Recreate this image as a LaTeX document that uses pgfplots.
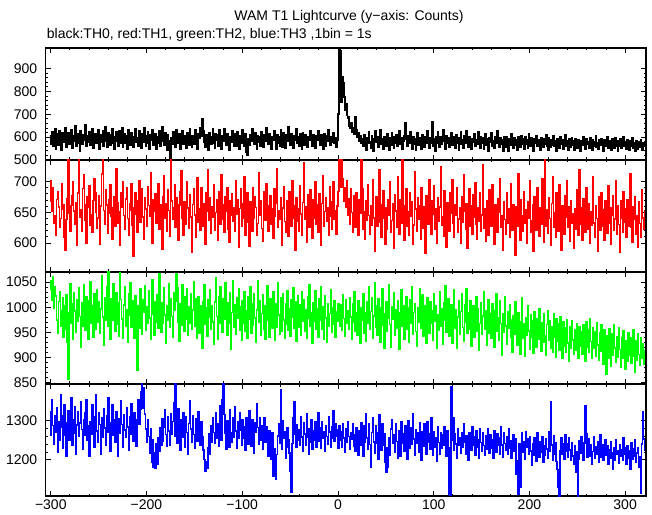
\documentclass[border=0pt]{standalone}
\usepackage{fontspec}
\setmainfont{Liberation Sans}
\usepackage{pgfplots}
\pgfplotsset{compat=1.18}
\usepackage{pgfplotstable}
\pgfplotstableread{
t a b c d
-301 605 702 1035 1262
-300 571 668 1052 1323
-299 624 651 1014 1354
-298 559 690 1060 1287
-297 590 633 998 1240
-296 637 645 1041 1312
-295 548 612 1022 1269
-294 612 671 975 1333
-293 583 684 948 1220
-292 565 659 1011 1298
-291 629 626 1031 1251
-290 597 640 962 1366
-289 544 697 994 1284
-288 618 655 1018 1229
-287 578 663 941 1311
-286 602 609 1003 1340
-285 641 588 957 1263
-284 556 638 1025 1208
-283 587 672 930 1295
-282 620 735 857 1324
-281 569 648 989 1251
-280 594 619 1047 1280
-279 633 661 968 1357
-278 551 677 1006 1236
-277 607 700 937 1302
-276 585 652 1029 1268
-275 648 630 993 1334
-274 562 666 951 1215
-273 598 597 1014 1289
-272 616 681 972 1323
-271 575 735 1039 1260
-270 540 642 982 1294
-269 627 654 921 1347
-268 593 620 1008 1277
-267 570 689 963 1226
-266 611 711 1044 1303
-265 588 663 997 1262
-264 652 637 955 1319
-263 559 600 1020 1352
-262 604 675 979 1249
-261 579 658 936 1287
-260 623 693 1012 1210
-259 567 629 1051 1296
-258 595 646 969 1265
-257 638 618 1003 1341
-256 553 669 940 1284
-255 590 705 1027 1232
-254 616 682 985 1310
-253 574 650 956 1366
-252 600 624 1035 1273
-251 632 641 971 1244
-250 546 677 1010 1319
-249 585 598 948 1290
-248 611 660 996 1215
-247 577 712 1062 1307
-246 626 735 981 1258
-245 561 653 924 1329
-244 597 631 1019 1281
-243 644 687 975 1236
-242 582 662 1040 1312
-241 558 616 962 1270
-240 620 649 1070 1358
-239 593 670 988 1294
-238 567 694 937 1221
-237 609 644 1016 1286
-236 635 607 974 1340
-235 576 658 1047 1262
-234 550 676 999 1301
-233 603 628 952 1246
-232 622 720 1029 1322
-231 585 666 966 1279
-230 561 633 1008 1209
-229 628 651 943 1305
-228 596 597 1068 1267
-227 573 682 1015 1351
-226 642 659 977 1290
-225 557 700 938 1233
-224 588 645 1004 1314
-223 614 623 1041 1276
-222 575 672 963 1257
-221 605 690 995 1332
-220 549 640 930 1284
-219 630 612 1027 1225
-218 592 664 984 1309
-217 566 653 1049 1266
-216 619 696 960 1344
-215 584 629 1012 1292
-214 555 578 971 1248
-213 603 657 938 1320
-212 637 681 1022 1278
-211 579 647 985 1235
-210 598 617 874 1303
-209 563 668 1003 1354
-208 625 701 959 1290
-207 587 634 1036 1329
-206 552 659 977 1373
-205 612 688 946 1395
-204 578 642 1014 1332
-203 641 606 990 1384
-202 590 673 1043 1317
-201 560 655 955 1279
-200 604 627 1000 1244
-199 623 692 968 1301
-198 573 661 1032 1259
-197 547 644 979 1216
-196 609 715 936 1280
-195 586 637 1018 1195
-194 631 600 1055 1252
-193 567 670 987 1181
-192 595 651 944 1219
-191 614 680 1010 1178
-190 548 632 971 1240
-189 602 654 1025 1189
-188 576 697 958 1256
-187 629 623 1066 1223
-186 559 662 996 1281
-185 590 645 951 1237
-184 645 590 1008 1304
-183 581 676 968 1248
-182 565 709 1039 1283
-181 617 641 985 1328
-180 592 664 929 1265
-179 545 620 1003 1235
-178 608 686 975 1310
-177 583 653 1047 1274
-176 520 611 960 1238
-175 507 735 1016 1317
-174 598 668 982 1266
-173 571 639 941 1297
-172 624 658 1029 1346
-171 586 695 994 1260
-170 556 626 1012 1395
-169 631 674 1067 1289
-168 598 648 1039 1242
-167 575 605 970 1331
-166 612 662 933 1275
-165 548 683 1006 1224
-164 590 717 965 1302
-163 627 640 1044 1257
-162 569 613 985 1320
-161 605 667 952 1281
-160 582 651 1020 1232
-159 553 630 976 1309
-158 619 699 1037 1269
-157 594 657 944 1215
-156 566 624 1001 1293
-155 638 679 968 1351
-154 580 642 1026 1278
-153 557 585 957 1246
-152 606 663 995 1313
-151 591 688 1050 1264
-150 569 646 963 1230
-149 630 609 1017 1305
-148 584 671 939 1283
-147 550 706 989 1247
-146 613 634 1021 1322
-145 595 655 948 1271
-144 640 621 1002 1237
-143 603 690 974 1296
-142 678 648 919 1258
-141 626 627 1011 1225
-140 577 664 1045 1201
-139 558 598 966 1170
-138 611 681 998 1196
-137 587 652 942 1178
-136 544 719 1015 1230
-135 620 637 980 1267
-134 589 673 1034 1213
-133 568 616 957 1286
-132 601 659 1003 1245
-131 637 642 971 1308
-130 574 694 926 1269
-129 553 621 1010 1241
-128 615 650 1059 1320
-127 586 671 982 1256
-126 609 605 937 1292
-125 562 684 1020 1234
-124 631 647 968 1337
-123 588 630 1041 1280
-122 547 711 993 1251
-121 604 663 950 1354
-120 583 638 1016 1395
-119 637 617 977 1316
-118 596 676 1048 1267
-117 565 652 994 1226
-116 613 690 945 1299
-115 581 622 1008 1286
-114 543 602 969 1233
-113 602 668 1028 1328
-112 578 645 916 1270
-111 629 680 990 1244
-110 594 635 1053 1307
-109 559 658 961 1258
-108 616 619 1004 1335
-107 587 701 947 1274
-106 561 647 1019 1229
-105 622 671 978 1298
-104 589 593 1037 1254
-103 548 656 955 1321
-102 607 689 1000 1275
-101 573 628 934 1236
-100 632 664 1013 1303
-99 596 641 969 1256
-98 562 708 1031 1283
-97 614 612 952 1225
-96 533 650 994 1308
-95 521 682 938 1264
-94 590 634 1021 1239
-93 566 595 976 1324
-92 610 667 1040 1278
-91 585 653 948 1235
-90 637 620 1007 1302
-89 593 690 965 1254
-88 570 641 1026 1216
-87 618 676 979 1295
-86 584 658 931 1270
-85 549 613 995 1343
-84 607 632 1053 1282
-83 578 715 971 1240
-82 600 646 1012 1306
-81 563 669 944 1251
-80 624 624 988 1288
-79 591 603 1024 1226
-78 555 683 957 1263
-77 611 650 1003 1307
-76 582 637 936 1245
-75 640 697 975 1284
-74 596 661 1042 1258
-73 568 619 983 1210
-72 612 644 941 1275
-71 579 677 1017 1237
-70 550 630 1002 1202
-69 603 655 958 1269
-68 587 608 1030 1157
-67 626 688 969 1175
-66 589 643 934 1228
-65 546 664 1007 1150
-64 608 721 961 1214
-63 574 626 1048 1261
-62 599 652 985 1293
-61 563 639 946 1241
-60 630 673 1019 1378
-59 592 597 953 1226
-58 557 657 1026 1299
-57 619 692 975 1255
-56 584 635 938 1272
-55 552 618 1006 1204
-54 609 668 967 1233
-53 581 645 1033 1282
-52 643 611 955 1250
-51 596 684 997 1218
-50 567 650 942 1172
-49 612 627 1015 1118
-48 583 702 980 1241
-47 551 641 1039 1306
-46 604 661 959 1349
-45 588 589 1010 1264
-44 634 674 932 1231
-43 575 636 987 1290
-42 601 655 1022 1249
-41 561 620 961 1276
-40 615 693 1004 1236
-39 587 647 944 1310
-38 548 612 1030 1258
-37 620 666 972 1221
-36 592 731 1014 1295
-35 566 638 953 1266
-34 609 659 995 1238
-33 585 601 938 1318
-32 556 678 1021 1257
-31 603 644 979 1215
-30 588 625 1045 1279
-29 629 687 963 1244
-28 597 653 990 1302
-27 562 608 929 1227
-26 611 671 1008 1274
-25 580 640 972 1250
-24 551 699 1033 1297
-23 604 631 956 1231
-22 589 662 996 1270
-21 626 617 941 1319
-20 593 680 1016 1248
-19 567 646 974 1281
-18 610 596 1040 1229
-17 582 664 957 1297
-16 549 709 1001 1254
-15 615 628 936 1272
-14 590 651 1023 1221
-13 563 674 979 1288
-12 607 635 930 1259
-11 585 657 1006 1240
-10 633 612 962 1310
-9 597 691 988 1271
-8 565 643 1035 1231
-7 602 622 950 1283
-6 580 667 998 1255
-5 620 700 967 1324
-4 574 638 1013 1247
-3 598 653 940 1291
-2 557 614 991 1261
-1 588 660 972 1276
0 701 684 1007 1230
1 990 745 990 1287
2 975 742 963 1249
3 752 690 1004 1272
4 862 738 955 1233
5 838 704 1024 1291
6 776 668 978 1255
7 720 690 943 1220
8 745 659 1015 1279
9 698 702 969 1244
10 683 646 994 1296
11 690 672 957 1260
12 648 631 1019 1226
13 641 688 981 1270
14 662 650 937 1252
15 621 617 1006 1293
16 640 677 970 1235
17 612 641 1030 1265
18 690 625 952 1223
19 632 682 990 1282
20 601 639 945 1248
21 618 613 1012 1212
22 585 671 964 1275
23 607 648 928 1238
24 573 740 998 1294
25 594 689 975 1253
26 562 622 1027 1209
27 609 651 948 1286
28 583 606 990 1244
29 545 668 932 1317
30 598 637 1011 1255
31 574 694 969 1226
32 621 645 1040 1293
33 581 615 957 1239
34 553 660 992 1182
35 606 629 1018 1270
36 570 703 938 1308
37 538 641 983 1245
38 590 587 1049 1217
39 625 655 961 1287
40 577 676 1002 1242
41 599 628 945 1270
42 556 649 1017 1201
43 584 719 973 1316
44 630 634 931 1254
45 571 610 998 1225
46 593 662 1036 1291
47 546 685 964 1236
48 601 640 919 1266
49 580 598 987 1194
50 559 657 1010 1168
51 616 623 953 1230
52 588 671 979 1182
53 542 646 1045 1256
54 595 700 966 1211
55 567 618 921 1278
56 620 637 1001 1302
57 585 664 976 1243
58 551 591 1028 1264
59 603 679 944 1219
60 576 652 995 1293
61 611 626 958 1247
62 560 708 1013 1205
63 589 643 970 1274
64 629 615 917 1258
65 571 670 990 1210
66 596 633 1034 1297
67 547 735 962 1241
68 582 648 1002 1266
69 607 605 937 1223
70 662 660 985 1287
71 590 689 1021 1250
72 563 627 956 1202
73 605 651 998 1299
74 575 612 931 1255
75 624 681 1015 1230
76 588 643 968 1281
77 550 667 1040 1240
78 600 598 947 1318
79 569 629 990 1253
80 594 716 1007 1211
81 543 655 952 1277
82 587 620 923 1242
83 618 674 999 1268
84 566 638 971 1220
85 598 661 1037 1294
86 579 606 958 1249
87 548 690 986 1198
88 609 645 1024 1272
89 584 624 943 1234
90 558 659 1003 1291
91 602 583 962 1257
92 572 677 929 1215
93 627 650 1018 1297
94 591 631 980 1244
95 553 703 948 1266
96 597 640 1011 1226
97 574 614 969 1308
98 665 668 994 1254
99 560 647 935 1212
100 593 693 1026 1272
101 541 622 973 1233
102 599 656 1002 1256
103 576 600 918 1197
104 622 674 985 1285
105 587 635 955 1244
106 555 659 1030 1215
107 601 724 962 1270
108 568 629 997 1229
109 592 643 926 1263
110 631 611 1008 1237
111 585 685 975 1284
112 549 652 1043 1247
113 607 594 951 1210
114 573 666 990 1275
115 596 637 1016 1230
116 558 620 943 1112
117 583 681 982 1109
118 618 648 1005 1385
119 567 703 929 1250
120 602 633 969 1306
121 579 609 1035 1224
122 552 662 958 1266
123 608 645 995 1240
124 574 690 919 1204
125 595 618 981 1279
126 544 639 1013 1236
127 590 657 947 1257
128 621 600 992 1217
129 570 676 1026 1268
130 586 634 960 1231
131 553 711 932 1291
132 604 652 1004 1244
133 575 623 970 1213
134 629 664 1037 1262
135 583 591 948 1236
136 557 645 989 1199
137 600 688 957 1270
138 568 627 1012 1240
139 547 660 922 1225
140 594 615 985 1285
141 578 679 1002 1238
142 612 642 941 1260
143 560 698 977 1212
144 589 630 1021 1275
145 571 606 953 1231
146 623 658 996 1252
147 582 635 915 1205
148 551 681 968 1280
149 601 619 1009 1244
150 575 646 946 1222
151 596 727 983 1269
152 548 624 1031 1236
153 584 655 957 1211
154 614 603 994 1262
155 566 669 924 1228
156 590 638 972 1279
157 539 612 1015 1246
158 598 686 948 1216
159 577 649 987 1265
160 620 627 939 1230
161 563 694 1006 1252
162 585 641 961 1203
163 552 598 920 1275
164 602 662 993 1238
165 574 633 1026 1219
166 629 617 953 1266
167 581 672 979 1236
168 556 650 935 1255
169 597 705 1012 1214
170 570 626 968 1284
171 588 644 904 1238
172 541 589 987 1207
173 603 667 950 1269
174 577 638 1020 1241
175 558 614 963 1224
176 599 681 927 1260
177 571 632 992 1213
178 540 655 958 1278
179 592 609 1005 1229
180 566 697 941 1249
181 614 640 976 1204
182 580 621 911 1240
183 551 663 984 1263
184 596 646 946 1221
185 564 581 1010 1253
186 587 659 960 1163
187 543 628 925 1198
188 601 712 989 1113
189 574 637 951 1242
190 557 604 906 1129
191 605 671 972 1209
192 571 645 1019 1268
193 592 620 939 1220
194 549 684 967 1247
195 600 632 902 1201
196 568 654 980 1272
197 586 599 945 1232
198 554 667 1003 1253
199 612 640 953 1214
200 578 701 916 1259
201 562 618 985 1222
202 595 636 940 1185
203 566 662 973 1240
204 541 587 908 1211
205 590 676 991 1256
206 573 643 948 1224
207 605 621 921 1197
208 559 690 978 1268
209 586 635 937 1230
210 569 611 997 1207
211 545 658 954 1246
212 598 630 913 1219
213 576 705 969 1260
214 557 647 930 1194
215 591 602 988 1237
216 569 735 944 1212
217 610 628 905 1253
218 563 654 966 1227
219 543 616 993 1203
220 595 673 935 1271
221 574 640 973 1223
222 556 596 918 1347
223 588 664 961 1238
224 565 707 910 1200
225 604 625 987 1262
226 560 649 941 1215
227 582 610 900 1244
228 538 682 977 1196
229 591 637 932 1176
230 571 620 968 1129
231 553 695 914 1105
232 600 651 982 1222
233 568 588 937 1255
234 587 660 898 1213
235 550 634 971 1240
236 579 614 922 1201
237 609 677 960 1263
238 562 642 911 1221
239 584 701 976 1241
240 542 626 929 1206
241 590 659 892 1256
242 570 603 961 1225
243 557 669 919 1198
244 598 633 973 1244
245 567 648 935 1210
246 584 591 906 1188
247 545 655 956 1235
248 593 622 914 1169
249 574 686 968 1220
250 552 640 928 1106
251 588 612 899 1202
252 563 719 962 1249
253 540 631 922 1217
254 582 657 951 1258
255 565 604 907 1223
256 601 672 966 1198
257 576 636 928 1243
258 547 617 892 1337
259 592 690 971 1267
260 568 644 920 1206
261 581 623 955 1232
262 551 664 911 1253
263 597 599 977 1208
264 571 651 932 1239
265 542 629 898 1189
266 587 708 959 1221
267 562 633 918 1258
268 579 610 952 1203
269 605 661 903 1234
270 558 640 969 1215
271 576 587 925 1245
272 546 675 895 1194
273 586 646 950 1227
274 566 621 912 1263
275 594 682 966 1207
276 572 627 921 1238
277 540 654 886 1200
278 589 604 956 1222
279 561 669 907 1250
280 579 640 866 1211
281 603 616 943 1236
282 552 693 899 1190
283 584 632 958 1226
284 567 658 915 1204
285 543 598 883 1245
286 590 645 947 1217
287 570 677 904 1177
288 551 621 965 1232
289 596 639 919 1198
290 563 702 891 1252
291 581 615 942 1213
292 539 660 900 1224
293 585 630 959 1191
294 562 585 916 1239
295 594 668 880 1208
296 553 641 940 1225
297 575 617 898 1200
298 602 683 953 1255
299 559 634 910 1215
300 578 655 876 1230
301 548 609 933 1188
302 588 671 893 1237
303 565 628 949 1205
304 544 649 905 1222
305 582 712 940 1176
306 561 626 888 1244
307 595 601 926 1202
308 553 659 955 1227
309 576 638 902 1209
310 541 675 871 1251
311 585 615 934 1194
312 563 644 894 1218
313 548 593 947 1232
314 580 667 906 1181
315 558 632 884 1207
316 589 610 939 1116
317 566 686 899 1240
318 542 641 928 1323
319 575 622 887 1253
320 557 653 915 1223
}\lc

\pgfplotsset{
  panel/.style={
    scale only axis, width=600.3bp, height=112bp,
    xmin=-305.3, xmax=321.8,
    axis line style={line width=1.2bp},
    every tick/.style={black, line width=0.9bp},
    major tick length=5bp, minor tick length=2.5bp,
    tick align=inside,
    xtick={-300,-200,...,300}, minor x tick num=4,
    xticklabels={},
    minor y tick num=4,
    tick label style={font=\fontsize{14bp}{16bp}\selectfont},
    yticklabel style={xshift=-5bp},
    /pgf/number format/.cd, 1000 sep={}, assume math mode=true,
  },
}

\begin{document}
\begin{tikzpicture}
\path[use as bounding box] (-45.7bp,-19bp) rectangle (606.3bp,496bp);
\node[anchor=base, font=\fontsize{14bp}{16bp}\selectfont] at (303.3bp,475.3bp) {WAM T1 Lightcurve (y−axis: Counts)};
\node[anchor=base west, font=\fontsize{14bp}{16bp}\selectfont, inner sep=0pt] at (1bp,457.7bp) {black:TH0, red:TH1, green:TH2, blue:TH3 ,1bin = 1s};

\begin{axis}[panel, at={(0bp,336bp)}, ymin=500, ymax=990, ytick={500,600,...,900}]
\addplot[black, line width=1.9bp, const plot] table[x=t, y=a] {\lc};
\end{axis}
\begin{axis}[panel, at={(0bp,224bp)}, ymin=553, ymax=735, ytick={600,650,700}]
\addplot[red, line width=1.5bp, const plot] table[x=t, y=b] {\lc};
\end{axis}
\begin{axis}[panel, at={(0bp,112bp)}, ymin=847.5, ymax=1070, ytick={850,900,...,1050}]
\addplot[green, line width=1.5bp, const plot] table[x=t, y=c] {\lc};
\end{axis}
\begin{axis}[panel, at={(0bp,0bp)}, ymin=1108, ymax=1393, ytick={1200,1300},
  xticklabels={−300,−200,−100,0,100,200,300}]
\addplot[blue, line width=1.5bp, const plot] table[x=t, y=d] {\lc};
\end{axis}
\end{tikzpicture}
\end{document}
